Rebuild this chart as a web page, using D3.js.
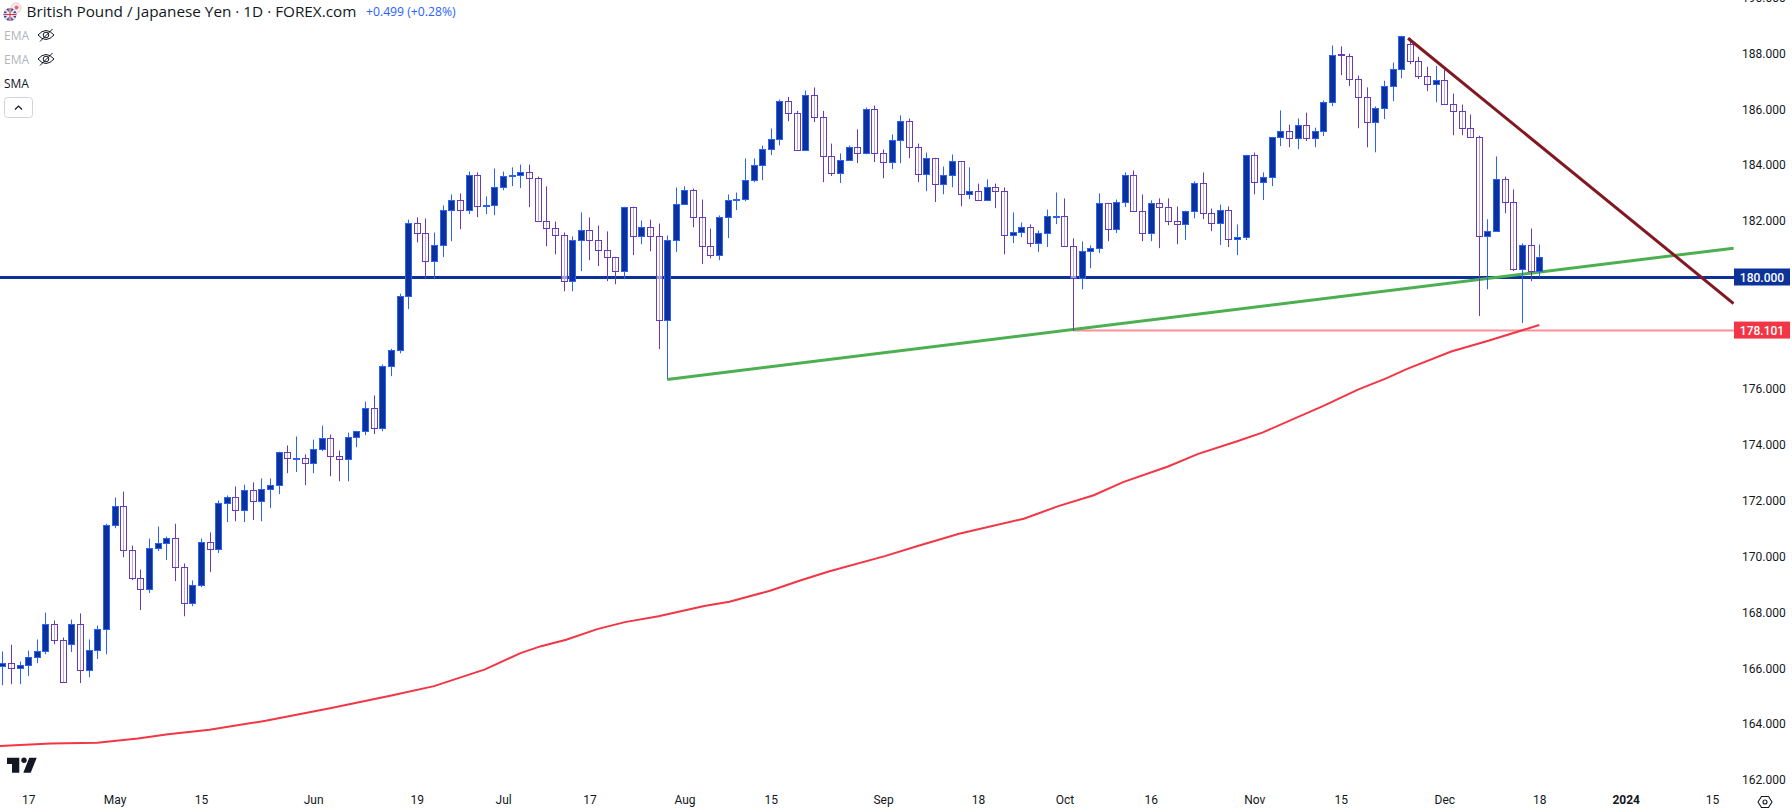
<!DOCTYPE html>
<html>
<head>
<meta charset="utf-8">
<style>
  html, body { margin: 0; padding: 0; background: #fff; overflow: hidden; }
  svg { display: block; }
  text { font-family: Roboto, "Noto Sans", sans-serif; }
</style>
</head>
<body>
<svg id="chart" width="1792" height="812"></svg>
<script src="https://cdnjs.cloudflare.com/ajax/libs/d3/7.8.5/d3.min.js"></script>
<script>
// GBP/JPY daily bars, first bar is 12 Apr 2023
const opens = [
  166.10,166.20,166.03,166.14,166.43,166.64,167.61,167.04,166.89,167.61,
  165.96,166.68,167.43,171.15,171.83,170.26,169.25,168.86,170.33,170.51,
  170.69,169.65,168.36,169.00,170.54,170.29,171.94,172.15,171.69,172.40,
  172.01,172.44,172.58,173.76,173.54,173.55,173.37,173.87,174.26,173.62,
  173.51,174.30,174.51,175.34,174.62,176.84,177.41,179.34,181.96,181.60,
  180.60,181.17,182.42,182.78,182.42,183.67,182.58,182.60,183.24,183.64,
  183.67,183.78,183.57,182.03,181.78,181.53,179.88,181.35,181.71,181.35,
  180.99,180.74,180.24,182.53,181.49,181.81,181.49,178.49,181.35,182.64,
  183.14,182.17,181.13,180.81,182.17,182.78,182.81,183.49,184.03,184.60,
  184.96,186.32,185.89,184.57,186.54,185.75,184.35,183.75,184.21,184.68,
  184.46,186.04,184.46,184.14,184.93,185.61,184.68,183.71,184.28,183.35,
  183.67,184.17,182.99,183.10,182.78,183.24,183.10,181.53,181.63,181.81,
  181.24,181.60,182.20,182.21,181.13,179.99,180.95,181.06,182.67,181.74,
  182.71,183.67,182.39,181.60,182.67,182.53,182.03,181.92,182.39,183.39,
  182.31,181.96,182.42,181.38,181.46,184.39,183.42,183.60,185.03,185.25,
  185.00,185.46,185.00,185.25,186.28,187.98,187.93,187.11,186.46,185.57,
  186.07,186.86,187.47,188.36,187.75,187.22,186.93,187.07,186.21,185.96,
  185.36,185.03,181.49,181.67,183.53,182.71,180.31,181.17,180.24
];
const highs = [
  166.62,166.86,166.26,166.65,167.05,168.01,167.73,167.12,167.76,167.98,
  167.05,167.55,171.19,172.13,172.34,170.41,169.55,170.66,171.09,170.73,
  171.19,169.77,169.16,170.66,170.88,172.02,172.20,172.52,172.59,172.67,
  172.81,172.81,173.77,173.99,174.31,173.67,174.20,174.70,174.38,173.81,
  174.45,174.51,175.56,175.78,176.89,177.45,179.42,182.07,182.15,182.11,
  181.61,182.58,182.97,183.01,183.79,183.76,182.90,183.90,183.79,183.94,
  184.04,184.04,183.61,183.26,182.00,181.61,181.47,182.33,182.15,181.86,
  181.65,180.74,182.53,182.53,182.04,182.07,181.93,181.50,183.22,183.26,
  183.18,182.79,181.75,182.22,182.97,183.04,184.26,184.26,184.72,185.33,
  186.37,186.46,185.96,186.69,186.80,185.96,184.79,184.44,184.72,185.30,
  186.08,186.15,184.58,185.12,185.80,185.69,184.79,184.47,184.28,183.97,
  184.40,184.17,183.94,183.36,183.51,183.36,183.22,182.33,181.97,181.90,
  181.68,182.43,183.04,182.83,181.40,181.29,181.15,183.01,182.67,182.79,
  183.76,183.83,182.97,182.76,182.83,182.83,182.54,182.39,183.44,183.76,
  182.47,182.61,182.54,181.90,184.39,184.47,183.76,185.03,185.98,185.47,
  185.69,185.90,185.36,186.33,188.30,188.27,188.01,187.22,186.80,186.12,
  187.04,187.69,188.65,188.57,187.90,187.54,187.57,187.54,186.58,186.19,
  185.83,185.07,182.08,184.33,183.61,183.15,181.22,181.75,181.18
];
const lows = [
  165.41,165.45,165.45,165.74,166.20,166.52,166.88,165.52,166.60,165.49,
  165.70,166.35,166.52,171.03,169.99,169.17,168.10,168.71,170.21,169.89,
  169.14,167.88,168.24,168.92,169.46,170.14,171.25,171.28,171.25,171.32,
  171.28,171.75,172.25,173.00,173.04,172.57,173.00,173.79,172.89,172.71,
  172.71,173.93,174.36,174.40,174.50,176.47,177.29,178.87,181.26,179.94,
  179.94,180.73,181.30,181.73,182.27,182.16,182.27,182.23,183.12,183.27,
  183.20,182.52,182.03,181.12,180.83,179.51,179.51,180.23,180.62,180.41,
  179.87,179.76,179.94,180.80,181.19,180.94,177.44,176.37,180.91,182.64,
  181.80,180.48,180.69,180.62,181.41,182.41,182.73,183.41,183.48,184.38,
  184.73,185.59,184.57,184.57,185.56,183.41,183.63,183.38,184.21,184.09,
  184.41,184.13,183.55,183.88,184.09,184.27,183.41,183.09,182.70,182.98,
  183.23,182.55,182.80,182.78,182.78,182.48,180.83,181.23,181.44,181.09,
  180.91,181.09,181.91,181.13,178.10,179.58,180.33,180.87,181.30,181.59,
  182.52,182.39,181.30,181.30,181.05,181.87,181.19,181.34,182.12,182.09,
  181.66,181.16,181.09,180.80,181.34,182.98,182.77,183.27,184.70,184.66,
  184.59,184.88,184.66,185.06,186.13,187.24,186.85,185.34,184.66,184.48,
  185.67,186.31,187.13,187.63,187.10,186.67,186.27,186.21,185.09,185.09,
  185.03,178.62,179.58,181.67,182.30,180.23,178.37,179.87,180.02
];
const closes = [
  166.21,166.03,166.13,166.43,166.64,167.61,167.04,165.53,167.61,165.96,
  166.68,167.43,171.15,171.83,170.26,169.25,168.86,170.33,170.51,170.69,
  169.65,168.36,169.00,170.54,170.29,171.94,172.15,171.69,172.40,172.01,
  172.44,172.58,173.76,173.55,173.55,173.37,173.87,174.26,173.62,173.51,
  174.30,174.51,175.34,174.62,176.84,177.41,179.34,181.96,181.60,180.60,
  181.17,182.42,182.78,182.42,183.67,182.56,182.60,183.24,183.64,183.67,
  183.78,183.57,182.03,181.78,181.53,179.88,181.35,181.71,181.35,180.99,
  180.74,180.24,182.53,181.49,181.81,181.49,178.49,181.35,182.64,183.14,
  182.17,181.13,180.81,182.17,182.78,182.80,183.49,184.03,184.60,184.96,
  186.32,185.89,184.57,186.54,185.75,184.35,183.75,184.21,184.68,184.46,
  186.04,184.46,184.14,184.93,185.61,184.68,183.71,184.28,183.35,183.67,
  184.17,182.99,183.10,182.78,183.24,183.10,181.53,181.63,181.81,181.24,
  181.60,182.21,182.21,181.13,179.99,180.95,181.06,182.67,181.74,182.71,
  183.67,182.39,181.60,182.67,182.53,182.03,181.92,182.39,183.39,182.31,
  181.96,182.42,181.38,181.46,184.39,183.42,183.60,185.03,185.25,185.00,
  185.46,185.00,185.25,186.28,187.97,187.97,187.11,186.46,185.57,186.07,
  186.86,187.47,188.65,187.75,187.22,186.93,187.07,186.21,185.96,185.36,
  185.03,181.49,181.67,183.53,182.71,180.31,181.17,180.24,180.74
];

// 200 SMA read at a handful of bars
const smaBars = [-0.3,5.6,11,15.7,19.2,24,30.5,38.1,45.2,50,55.9,60,62.4,65.3,68.9,72.1,76,81.3,84.2,89,92.4,
  95.8,102.2,106.2,110.8,118.3,122.3,126.4,129.8,135,138.5,143.1,146,153,157,160.4,162.7,167.8,171.9,178];
const smaValues = [163.24,163.33,163.35,163.51,163.66,163.82,164.14,164.60,165.05,165.38,165.98,166.56,166.81,167.04,167.42,167.67,167.88,168.25,168.40,168.80,169.16,
  169.49,170.03,170.41,170.83,171.37,171.82,172.21,172.68,173.24,173.69,174.15,174.46,175.41,175.99,176.41,176.73,177.35,177.72,178.30];

// drawings: [bar, price]
const supportLine = [[77, 176.35], [200.5, 181.05]];
const resistLine = [[162.8, 188.56], [200.5, 179.07]];
const levelBlue = 180;
const levelRed = 178.101;
const levelRedStart = 124;

const priceTicks = d3.range(162, 191, 2);
const timeTickBars = [3,13,23,36,48,58,68,79,89,102,113,123,133,145,155,167,178,188,198];
const timeTickLabels = ['17','May','15','Jun','19','Jul','17','Aug','15','Sep','18','Oct','16','Nov','15','Dec','18','2024','15'];

const plotW = 1734;
const svg = d3.select('#chart');
const x = d3.scaleLinear().domain([0, 178]).range([2.3, 1539.3]);
const y = d3.scaleLinear().domain([162, 190]).range([780.6, -2]);
const UP = '#2962ff', UP_FILL = '#0c3299', DOWN = '#673ab7';

svg.append('defs').append('clipPath').attr('id', 'plot')
  .append('rect').attr('width', plotW).attr('height', 785);
const plot = svg.append('g').attr('clip-path', 'url(#plot)');

const line = d3.line().x(d => x(d[0])).y(d => y(d[1]));

// levels go under the candles
plot.append('line').attr('x1', 0).attr('x2', plotW).attr('y1', y(levelBlue)).attr('y2', y(levelBlue))
  .attr('stroke', UP_FILL).attr('stroke-width', 3);
plot.append('line').attr('x1', x(levelRedStart)).attr('x2', plotW).attr('y1', y(levelRed)).attr('y2', y(levelRed))
  .attr('stroke', '#f23645').attr('stroke-opacity', 0.55).attr('stroke-width', 2);
plot.append('path').attr('d', line(supportLine)).attr('fill', 'none').attr('stroke', '#4caf50').attr('stroke-width', 3);

// candles
const bars = d3.range(opens.length);
const snap = i => Math.round(x(i));
const isUp = i => closes[i] >= opens[i];
plot.selectAll('.wick').data(bars).enter().append('line')
  .attr('class', 'wick')
  .attr('x1', i => snap(i) + 0.5).attr('x2', i => snap(i) + 0.5)
  .attr('y1', i => y(highs[i])).attr('y2', i => y(lows[i]))
  .attr('stroke', i => isUp(i) ? UP : DOWN).attr('stroke-width', 1);
plot.selectAll('.body').data(bars).enter().append('rect')
  .attr('class', 'body')
  .attr('x', i => snap(i) - 2.5).attr('width', 6)
  .attr('y', i => Math.round(y(Math.max(opens[i], closes[i]))) + 0.5)
  .attr('height', i => Math.max(1, Math.round(y(Math.min(opens[i], closes[i])) - y(Math.max(opens[i], closes[i])))))
  .attr('fill', i => isUp(i) ? UP_FILL : 'rgba(255,255,255,0.55)')
  .attr('stroke', i => isUp(i) ? UP : DOWN).attr('stroke-width', 1);

// moving average and trend lines
plot.append('path').attr('d', line(smaBars.map((b, i) => [b, smaValues[i]])))
  .attr('fill', 'none').attr('stroke', '#f23645').attr('stroke-width', 2);
plot.append('path').attr('d', line(resistLine)).attr('fill', 'none').attr('stroke', '#801922').attr('stroke-width', 3);

// axes
const yAxis = svg.append('g').attr('transform', `translate(${plotW},-0.6)`)
  .call(d3.axisRight(y).tickValues(priceTicks).tickSize(0).tickPadding(8).tickFormat(d => d.toFixed(3)));
yAxis.select('.domain').remove();
yAxis.selectAll('text').attr('font-size', 12).attr('fill', '#131722')
  .style('font-family', 'Roboto, sans-serif');

const xAxis = svg.append('g').attr('transform', 'translate(0,792)')
  .call(d3.axisBottom(x).tickValues(timeTickBars).tickSize(0).tickPadding(3).tickFormat((d, i) => timeTickLabels[i]));
xAxis.select('.domain').remove();
xAxis.selectAll('text').attr('font-size', 12).attr('fill', '#131722')
  .attr('font-weight', (d, i) => timeTickLabels[i] === '2024' ? 700 : 400)
  .style('font-family', 'Roboto, sans-serif');

// price tags
function tag(value, color) {
  const g = svg.append('g').attr('transform', `translate(${plotW},${y(value)})`);
  g.append('rect').attr('y', -9).attr('width', 56).attr('height', 17).attr('fill', color);
  g.append('text').attr('x', 28).attr('y', 4.5).attr('text-anchor', 'middle')
    .attr('font-size', 12).attr('font-weight', 500).attr('fill', '#fff').text(value.toFixed(3));
}
tag(levelBlue, UP_FILL);
tag(levelRed, '#f23645');

// header
svg.append('text').attr('x', 26.5).attr('y', 17).attr('font-size', 15.3).attr('fill', '#131722')
  .style('font-family', '"Open Sans", sans-serif')
  .text('British Pound / Japanese Yen · 1D · FOREX.com');
svg.append('text').attr('x', 366).attr('y', 16).attr('font-size', 12.2).attr('fill', UP)
  .style('font-family', '"Open Sans", sans-serif')
  .text('+0.499 (+0.28%)');

const flag = svg.append('g');
flag.append('circle').attr('cx', 16).attr('cy', 8).attr('r', 5).attr('fill', '#f7f0f0').attr('stroke', '#e9c9c9');
flag.append('circle').attr('cx', 16.5).attr('cy', 7.5).attr('r', 2).attr('fill', '#e8667a');
flag.append('circle').attr('cx', 10).attr('cy', 14.5).attr('r', 6.5).attr('fill', '#2f4f9e');
flag.append('path').attr('d', 'M5.5 10 L14.5 19 M14.5 10 L5.5 19').attr('stroke', '#f3dede').attr('stroke-width', 2);
flag.append('path').attr('d', 'M10 8 V21 M3.5 14.5 H16.5').attr('stroke', '#fff').attr('stroke-width', 2.4);
flag.append('path').attr('d', 'M10 8 V21 M3.5 14.5 H16.5').attr('stroke', '#d8334a').attr('stroke-width', 1.2);

function legend(label, cy, color) {
  svg.append('text').attr('x', 4).attr('y', cy + 4.5).attr('font-size', 12).attr('fill', color)
    .style('font-family', '"Open Sans", sans-serif').text(label);
}
legend('EMA', 35.5, '#b2b5be');
legend('EMA', 59.5, '#b2b5be');
legend('SMA', 83.5, '#131722');

[35, 59].forEach(cy => {
  const eye = svg.append('g').attr('transform', `translate(46,${cy})`).attr('fill', 'none').attr('stroke', '#131722').attr('stroke-width', 1);
  eye.append('path').attr('d', 'M-8 0 Q0 -9 8 0 Q0 9 -8 0 Z');
  eye.append('circle').attr('r', 2.8);
  eye.append('path').attr('d', 'M-6 6.5 L6.5 -6');
});

svg.append('rect').attr('x', 4.5).attr('y', 97.5).attr('width', 28).attr('height', 20).attr('rx', 3)
  .attr('fill', '#fff').attr('stroke', '#d1d4dc');
svg.append('path').attr('d', 'M15 109.5 L18.5 106 L22 109.5').attr('fill', 'none').attr('stroke', '#131722').attr('stroke-width', 1.2);

// TradingView mark
const logo = svg.append('g').attr('fill', '#131722');
logo.append('path').attr('d', 'M7 757.7 H19.3 V772.7 H12 V764 H7 Z');
logo.append('circle').attr('cx', 24).attr('cy', 760.3).attr('r', 2.7);
logo.append('path').attr('d', 'M29.3 757.7 H36.7 L30.7 772.7 H23.3 Z');

// settings icon
const gear = svg.append('g').attr('transform', 'translate(1765,802)').attr('fill', 'none').attr('stroke', '#131722').attr('stroke-width', 1.1);
gear.append('path').attr('d', 'M-7 0 L-3.5 -5.5 H3.5 L7 0 L3.5 5.5 H-3.5 Z');
gear.append('circle').attr('r', 2);
</script>
</body>
</html>
